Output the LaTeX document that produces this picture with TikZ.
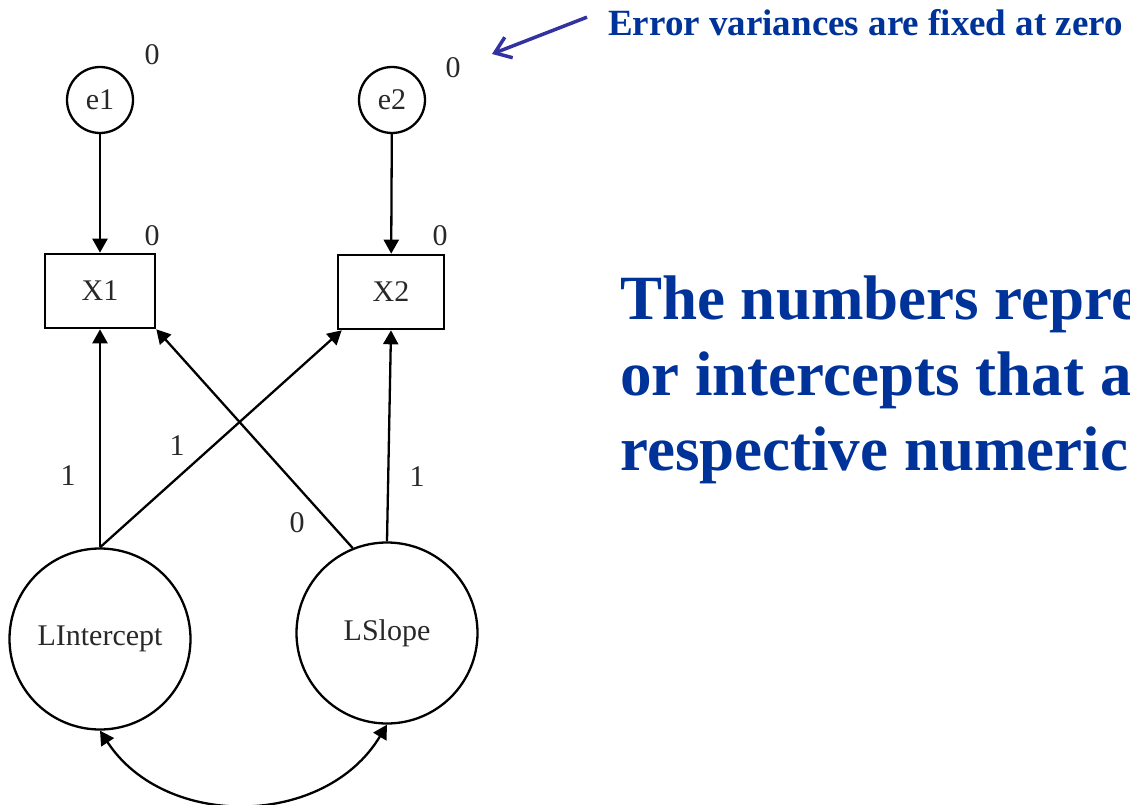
\documentclass[tikz,border=0pt]{standalone}
\usepackage{fontspec}
\setmainfont{Liberation Serif}
\usepackage{tikz}
\usepackage{xcolor}
\usetikzlibrary{arrows.meta,positioning}
\definecolor{navy}{RGB}{0,51,153}
\definecolor{pointer}{RGB}{50,50,160}
\definecolor{ink}{RGB}{40,40,40}

\begin{document}
\begin{tikzpicture}[x=1pt,y=-1pt,
  lbl/.style={font=\fontsize{30}{33}\selectfont,text=ink},
  latent/.style={draw,circle,line width=2.3pt,minimum size=181pt,inner sep=0pt,lbl},
  errvar/.style={draw,circle,line width=2.3pt,minimum size=66pt,inner sep=0pt,lbl},
  obs/.style={draw,rectangle,line width=2.6pt,minimum width=110pt,minimum height=74pt,lbl},
  load/.style={line width=2.3pt,-{Triangle[length=14pt,width=15pt]}},
  cov/.style={line width=2.3pt,{Triangle[length=14pt,width=15pt]}-{Triangle[length=14pt,width=15pt]}},
  note/.style={font=\fontsize{37}{40}\selectfont\bfseries,text=navy,inner sep=0pt,anchor=base west},
  msg/.style={font=\fontsize{63}{75}\selectfont\bfseries,text=navy,inner sep=0pt,anchor=base west}]
\useasboundingbox (0,0) rectangle (1130,805);
\clip (0,0) rectangle (1130,805);

% growth model
\node[errvar] (e1) at (100,100) {e1};
\node[errvar] (e2) at (392,100) {e2};
\node[obs] (x1) at (100,291) {X1};
\node[obs,minimum width=106pt] (x2) at (391,292) {X2};
\node[latent] (li) at (100,639) {LIntercept};
\node[latent] (ls) at (387,633) {LSlope};

\draw[load] (e1) -- (x1);
\draw[load] (e2) -- (x2);
\draw[load] (li.north) -- (x1.south);
\draw[load] (li.north) -- ([xshift=5pt]x2.south west);
\draw[load] (ls.112) -- (x1.south east);
\draw[load] (ls.north) -- (x2.south);
\draw[cov] (li.south) .. controls (165,830) and (325,828) .. (ls.south);

% fixed values
\node[lbl] (v1) at (152,55) {0};
\node[lbl] (v2) at (453,68) {0};
\node[lbl] (m1) at (152,236) {0};
\node[lbl] (m2) at (440,236) {0};
\node[lbl] (w11) at (68,476) {1};
\node[lbl] (w12) at (177,446) {1};
\node[lbl] (w21) at (297,523) {0};
\node[lbl] (w22) at (417,477) {1};

% callouts
\node[note] (note) at (608,36) {Error variances are fixed at zero};
\coordinate (tip) at (492,54);
\draw[pointer,line width=3.5pt,-{Straight Barb[length=15pt,width=22pt]}]
  ([xshift=-21pt,yshift=6pt]note.west) -- (tip);
\node[msg] (msg1) at (620,319) {The numbers repre};
\node[msg] (msg2) at (620,395) {or intercepts that a};
\node[msg] (msg3) at (620,470) {respective numeric};
\end{tikzpicture}
\end{document}
